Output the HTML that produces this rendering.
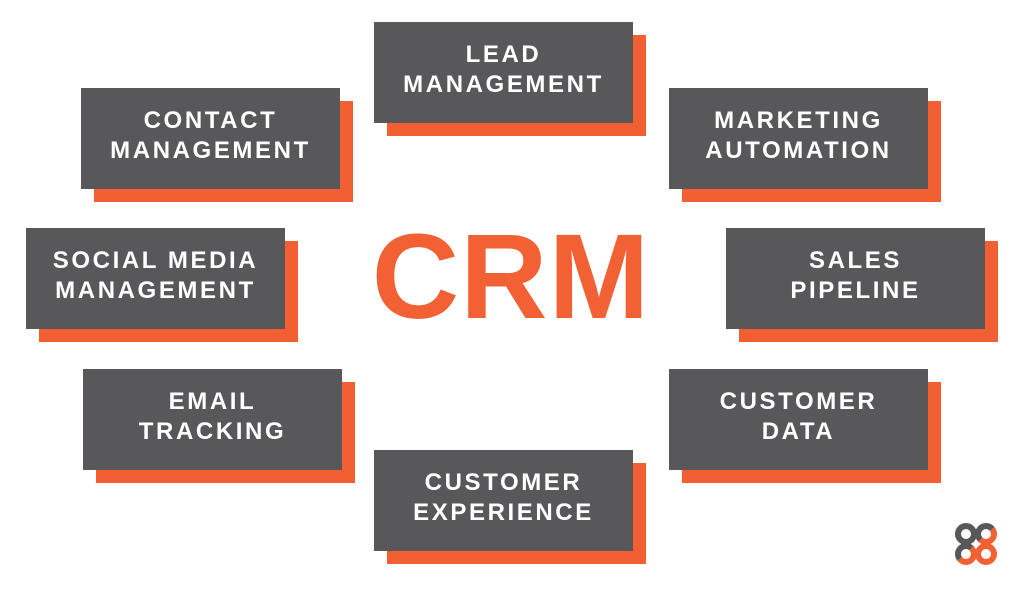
<!DOCTYPE html>
<html><head><style>
body{margin:0;width:1024px;height:592px;background:#fff;position:relative;overflow:hidden;font-family:"Liberation Sans",sans-serif}
.s{position:absolute;width:259px;height:101px;background:#f15f32}
.b{position:absolute;width:259px;height:101px;background:#58585a;color:#fff;font-weight:bold;font-size:24px;letter-spacing:2.6px;line-height:30px;display:flex;align-items:center;justify-content:center;text-align:center;box-sizing:border-box;padding-bottom:6px}
.crm{position:absolute;left:366px;top:206px;width:290px;text-align:center;font-size:121px;font-weight:bold;color:#f26133;line-height:140px;letter-spacing:1px}
</style></head><body>
<div class="s" style="left:387px;top:35px"></div><div class="b" style="left:374px;top:22px">LEAD<br>MANAGEMENT</div>
<div class="s" style="left:94px;top:101px"></div><div class="b" style="left:81px;top:88px">CONTACT<br>MANAGEMENT</div>
<div class="s" style="left:682px;top:101px"></div><div class="b" style="left:669px;top:88px">MARKETING<br>AUTOMATION</div>
<div class="s" style="left:39px;top:241px"></div><div class="b" style="left:26px;top:228px">SOCIAL MEDIA<br>MANAGEMENT</div>
<div class="s" style="left:739px;top:241px"></div><div class="b" style="left:726px;top:228px">SALES<br>PIPELINE</div>
<div class="s" style="left:96px;top:382px"></div><div class="b" style="left:83px;top:369px">EMAIL<br>TRACKING</div>
<div class="s" style="left:682px;top:382px"></div><div class="b" style="left:669px;top:369px">CUSTOMER<br>DATA</div>
<div class="s" style="left:387px;top:463px"></div><div class="b" style="left:374px;top:450px">CUSTOMER<br>EXPERIENCE</div>
<div class="crm">CRM</div>
<svg style="position:absolute;left:950px;top:520px" width="52" height="48" viewBox="0 0 52 48">
<defs><clipPath id="g"><polygon points="0,0 52,0 0,48"/></clipPath><clipPath id="o"><polygon points="52,0 52,48 0,48"/></clipPath></defs>
<g fill="none" stroke-width="6">
<g stroke="#58585a" clip-path="url(#g)"><circle cx="16" cy="14" r="8"/><circle cx="36" cy="14" r="8"/><circle cx="16" cy="34" r="8"/><circle cx="36" cy="34" r="8"/></g>
<g stroke="#f26133" clip-path="url(#o)"><circle cx="16" cy="14" r="8"/><circle cx="36" cy="14" r="8"/><circle cx="16" cy="34" r="8"/><circle cx="36" cy="34" r="8"/></g>
</g></svg>
</body></html>
